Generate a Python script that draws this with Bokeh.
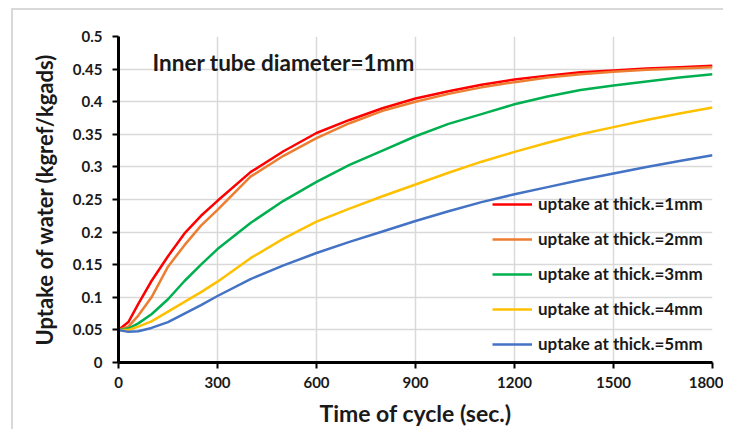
from bokeh.plotting import figure
from bokeh.models import Range1d, FixedTicker, Legend, LegendItem, Label
from bokeh.embed import file_html
from bokeh.resources import INLINE

time_s = [0, 30, 60, 100, 150, 200, 250, 300, 400, 500, 600, 700, 800, 900,
          1000, 1100, 1200, 1300, 1400, 1500, 1600, 1700, 1800]
uptake_1mm = [0.05, 0.062, 0.09, 0.125, 0.163, 0.198, 0.225, 0.248, 0.292, 0.324, 0.352, 0.372,
              0.390, 0.405, 0.416, 0.426, 0.434, 0.440, 0.445, 0.448, 0.451, 0.453, 0.455]
uptake_2mm = [0.05, 0.055, 0.072, 0.10, 0.147, 0.18, 0.21, 0.234, 0.285, 0.317, 0.344, 0.367,
              0.386, 0.400, 0.412, 0.422, 0.430, 0.437, 0.442, 0.446, 0.449, 0.451, 0.453]
uptake_3mm = [0.05, 0.052, 0.06, 0.074, 0.097, 0.125, 0.15, 0.174, 0.214, 0.248, 0.277, 0.303,
              0.325, 0.347, 0.366, 0.381, 0.396, 0.408, 0.418, 0.425, 0.431, 0.437, 0.442]
uptake_4mm = [0.05, 0.05, 0.055, 0.063, 0.078, 0.093, 0.108, 0.124, 0.16, 0.19, 0.216, 0.236,
              0.255, 0.273, 0.291, 0.308, 0.323, 0.337, 0.350, 0.361, 0.372, 0.382, 0.391]
uptake_5mm = [0.05, 0.047, 0.048, 0.053, 0.062, 0.075, 0.088, 0.102, 0.128, 0.149, 0.168, 0.185,
              0.201, 0.217, 0.232, 0.246, 0.258, 0.269, 0.28, 0.29, 0.3, 0.309, 0.318]

series_labels = ["uptake at thick.=1mm", "uptake at thick.=2mm", "uptake at thick.=3mm",
                 "uptake at thick.=4mm", "uptake at thick.=5mm"]
series_colors = ["#ff0000", "#ed7d31", "#00b050", "#ffc000", "#4472c4"]

x_ticks = [0, 300, 600, 900, 1200, 1500, 1800]
y_ticks = [0, 0.05, 0.1, 0.15, 0.2, 0.25, 0.3, 0.35, 0.4, 0.45, 0.5]
y_tick_labels = ["0", "0.05", "0.1", "0.15", "0.2", "0.25", "0.3", "0.35", "0.4", "0.45", "0.5"]

FONT = "Lato"
TXT = "#1a1a1a"

p = figure(width=712, height=421, output_backend="svg", toolbar_location=None,
           x_range=Range1d(0, 1800), y_range=Range1d(0, 0.5),
           min_border_left=105, min_border_right=13, min_border_top=26, min_border_bottom=69)
p.styles = {"border-top": "2px solid #d9d9d9", "border-left": "2px solid #d9d9d9",
            "margin-left": "11px", "margin-top": "8px"}
p.outline_line_color = None
p.background_fill_color = "white"

for ax, ticks in ((p.xaxis, x_ticks), (p.yaxis, y_ticks)):
    ax.ticker = FixedTicker(ticks=ticks)
    ax.axis_line_width = 3
    ax.axis_line_color = "black"
    ax.major_tick_line_width = 2
    ax.major_tick_line_color = "black"
    ax.major_tick_in = 0
    ax.major_tick_out = 6
    ax.minor_tick_line_color = None
    ax.major_label_text_font = FONT
    ax.major_label_text_font_style = "bold"
    ax.major_label_text_font_size = "15px"
    ax.major_label_text_color = TXT
    ax.axis_label_text_font = FONT
    ax.axis_label_text_font_style = "bold"
    ax.axis_label_text_color = TXT

p.xaxis.axis_label_text_font_size = "23px"
p.yaxis.axis_label_text_font_size = "22px"
p.yaxis.major_label_overrides = {t: l for t, l in zip(y_ticks, y_tick_labels)}
p.xaxis.axis_label = "Time of cycle (sec.)"
p.yaxis.axis_label = "Uptake of water (kgref/kgads)"
p.xaxis.major_label_standoff = 8
p.yaxis.major_label_standoff = 10
p.xaxis.axis_label_standoff = 8
p.yaxis.axis_label_standoff = 12

p.grid.grid_line_color = "#d9d9d9"
p.grid.grid_line_width = 1.5

renderers = []
for ys, c in zip([uptake_1mm, uptake_2mm, uptake_3mm, uptake_4mm, uptake_5mm], series_colors):
    r = p.line(time_s, ys, line_color=c, line_width=2.5)
    renderers.append(r)

legend = Legend(items=[LegendItem(label=l, renderers=[r]) for l, r in zip(series_labels, renderers)],
                location=(374, 8), padding=0, margin=0, spacing=14,
                glyph_width=40, glyph_height=20, label_height=20, label_standoff=6,
                background_fill_alpha=0, border_line_alpha=0,
                label_text_font=FONT, label_text_font_style="bold",
                label_text_font_size="17px", label_text_color=TXT)
p.add_layout(legend)

title = Label(x=34, y=300, x_units="screen", y_units="screen", text="Inner tube diameter=1mm",
              text_font=FONT, text_font_style="bold", text_font_size="22.5px",
              text_color=TXT, text_baseline="middle")
p.add_layout(title)

open("out.html", "w").write(file_html(p, INLINE))
